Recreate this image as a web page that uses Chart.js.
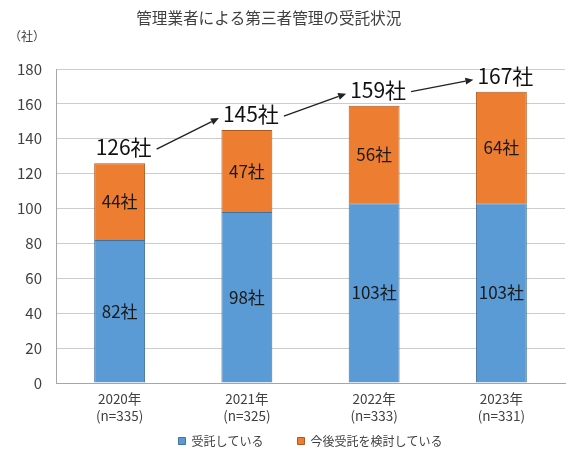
<!DOCTYPE html>
<html><head><meta charset="utf-8">
<script src="https://cdn.jsdelivr.net/npm/chart.js@4.4.1/dist/chart.umd.min.js"></script>
<style>html,body{margin:0;padding:0;background:#fff}#wrap{width:580px;height:462px;position:relative}</style>
</head><body><div id="wrap"><canvas id="c"></canvas></div>
<script>
const chartTitle = '管理業者による第三者管理の受託状況';
const unitLabel = '（社）';
const categories = ['2020年', '2021年', '2022年', '2023年'];
const sampleSizes = ['(n=335)', '(n=325)', '(n=333)', '(n=331)'];
const seriesNames = ['受託している', '今後受託を検討している'];
const entrusted = [82, 98, 103, 103];
const considering = [44, 47, 56, 64];
const totals = [126, 145, 159, 167];
const yTicks = [0, 20, 40, 60, 80, 100, 120, 140, 160, 180];
const unitSuffix = '社';

const FONT = '"Noto Sans CJK JP", "Noto Sans", sans-serif';
const TEXT = '#404040';

const overlayPlugin = {
  id: 'overlay',
  afterDatasetsDraw(chart) {
    const ctx = chart.ctx;
    const area = chart.chartArea;
    ctx.save();
    // title and unit label
    ctx.fillStyle = TEXT;
    ctx.textAlign = 'center';
    ctx.textBaseline = 'middle';
    ctx.font = '15.6px ' + FONT;
    ctx.fillText(chartTitle, area.left + (area.right - area.left) * 0.418, 18);
    ctx.font = '12px ' + FONT;
    ctx.fillText(unitLabel, 27, 36);

    // segment labels
    chart.data.datasets.forEach((ds, di) => {
      const meta = chart.getDatasetMeta(di);
      meta.data.forEach((bar, i) => {
        ctx.fillStyle = '#1a1a1a';
        ctx.font = '17px ' + FONT;
        ctx.textAlign = 'center';
        ctx.textBaseline = 'middle';
        ctx.fillText(ds.data[i] + unitSuffix, bar.x, (bar.y + bar.base) / 2);
      });
    });

    // totals + arrows
    const topMeta = chart.getDatasetMeta(1);
    const ys = chart.scales.y;
    ctx.font = '21px ' + FONT;
    const boxes = totals.map((t, i) => {
      const bar = topMeta.data[i];
      const txt = t + unitSuffix;
      const w = ctx.measureText(txt).width;
      const cx = bar.x + 4;
      const cy = ys.getPixelForValue(t) - 16;
      return {txt, cx, cy, w};
    });
    boxes.forEach(b => {
      ctx.fillStyle = '#111';
      ctx.textAlign = 'center';
      ctx.textBaseline = 'middle';
      ctx.fillText(b.txt, b.cx, b.cy);
    });
    ctx.strokeStyle = '#222';
    ctx.fillStyle = '#222';
    ctx.lineWidth = 1.4;
    for (let i = 0; i < boxes.length - 1; i++) {
      const a = boxes[i], b = boxes[i + 1];
      const x1 = a.cx + a.w / 2 + 5, y1 = a.cy + 2;
      const x2 = b.cx - b.w / 2 - 4, y2 = b.cy + 4;
      const ang = Math.atan2(y2 - y1, x2 - x1);
      const hl = 8, hw = 3.5;
      const bx = x2 - hl * Math.cos(ang), by = y2 - hl * Math.sin(ang);
      ctx.beginPath();
      ctx.moveTo(x1, y1);
      ctx.lineTo(bx, by);
      ctx.stroke();
      ctx.beginPath();
      ctx.moveTo(x2, y2);
      ctx.lineTo(bx + hw * Math.sin(ang), by - hw * Math.cos(ang));
      ctx.lineTo(bx - hw * Math.sin(ang), by + hw * Math.cos(ang));
      ctx.closePath();
      ctx.fill();
    }
    ctx.restore();
  }
};

new Chart(document.getElementById('c'), {
  type: 'bar',
  data: {
    labels: categories.map((c, i) => [c, sampleSizes[i]]),
    datasets: [
      {label: seriesNames[0], data: entrusted, backgroundColor: '#5B9BD5', borderColor: '#41719C', borderWidth: 1, barPercentage: 0.4, categoryPercentage: 1},
      {label: seriesNames[1], data: considering, backgroundColor: '#ED7D31', borderColor: '#AE5A21', borderWidth: 1, barPercentage: 0.4, categoryPercentage: 1}
    ]
  },
  options: {
    responsive: true,
    maintainAspectRatio: false,
    animation: false,
    devicePixelRatio: 1,
    layout: {padding: {top: 69, right: 15, left: 0, bottom: 5}},
    plugins: {
      title: {display: false},
      tooltip: {enabled: false},
      legend: {
        position: 'bottom',
        fullSize: false,
        labels: {
          boxWidth: 7, boxHeight: 7, padding: 10, color: TEXT, font: {family: FONT, size: 12},
          generateLabels(chart) {
            const items = Chart.defaults.plugins.legend.labels.generateLabels(chart);
            items.forEach((it, i) => { if (i < items.length - 1) it.text = it.text + '\u3000\u3000'; });
            return items;
          }
        }
      }
    },
    scales: {
      x: {
        stacked: true,
        grid: {display: false, drawTicks: false},
        border: {display: true, color: '#a6a6a6', width: 1},
        ticks: {color: TEXT, font: {family: FONT, size: 13.5, lineHeight: 1.25}, padding: 7.5, maxRotation: 0},
        afterFit(s) { s.height = 42; }
      },
      y: {
        stacked: true,
        min: 0, max: 180,
        afterBuildTicks(s) { s.ticks = yTicks.map(v => ({value: v})); },
        grid: {color: '#cccccc', lineWidth: 1, drawTicks: false},
        border: {display: true, color: '#a6a6a6', width: 1},
        ticks: {color: TEXT, font: {family: FONT, size: 15}, padding: 14},
        afterFit(s) { s.width = 56; }
      }
    }
  },
  plugins: [overlayPlugin]
});
</script></body></html>
